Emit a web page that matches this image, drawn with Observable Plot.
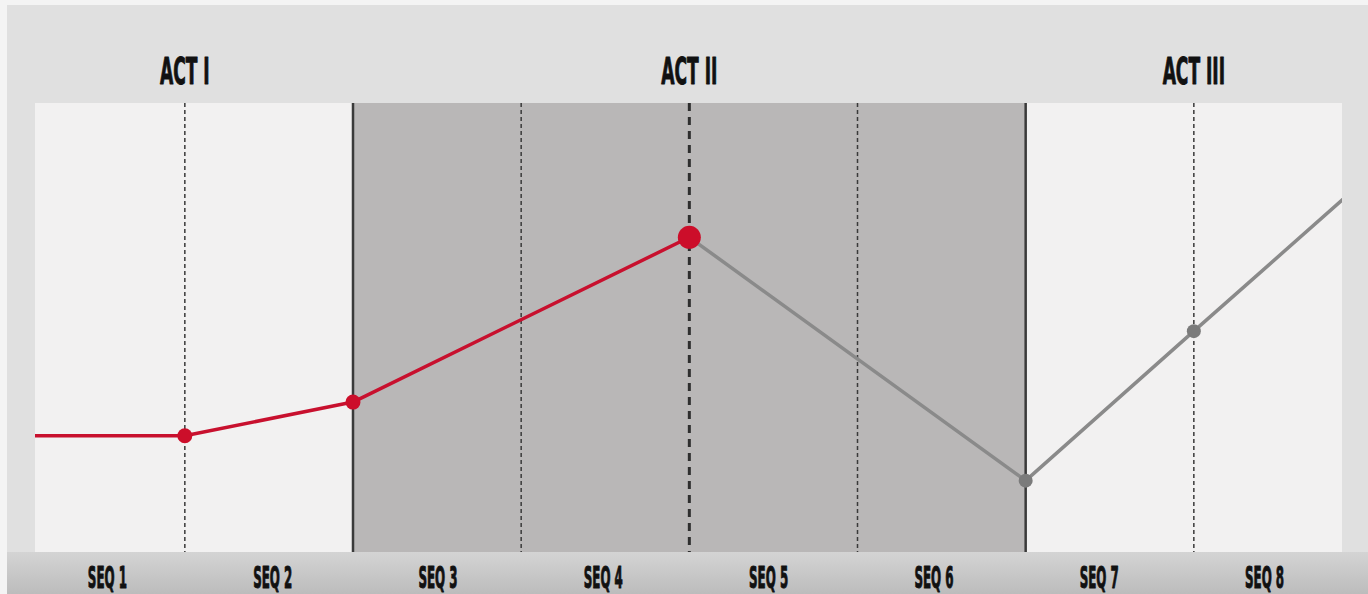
<!DOCTYPE html>
<html><head><meta charset="utf-8">
<script src="https://cdn.jsdelivr.net/npm/d3@7"></script>
<script src="https://cdn.jsdelivr.net/npm/@observablehq/plot@0.6"></script>
<style>
html,body{margin:0;padding:0;background:#f4f4f4;overflow:hidden;}
#wrap{position:relative;width:1368px;height:594px;}
#panel{position:absolute;left:7px;top:5px;right:0;bottom:0;background:#e0e0e0;}
#band{position:absolute;left:7px;right:0;top:552px;bottom:0;background:linear-gradient(#d4d4d4,#bcbcbc);}
#chart{position:absolute;left:0;top:0;}
</style></head><body>
<div id="wrap"><div id="panel"></div><div id="band"></div><div id="chart"></div></div>
<script>
// ---- data ----
const seqLabels = ["SEQ 1","SEQ 2","SEQ 3","SEQ 4","SEQ 5","SEQ 6","SEQ 7","SEQ 8"];
const seqBoundaries = [1,2,3,4,5,6,7];
const actNames = ["ACT I","ACT II","ACT III"];
const actStart = [0,2,6];
const actEnd = [2,6,8];
const actTone = ["light","dark","light"];
const risingX = [0,1,2,4];
const risingY = [26,26,33.5,70.2];
const fallingX = [4,6,7,8];
const fallingY = [70.2,16,49.3,82.4];
const redPoints = [1,2];      // x of small red markers
const peakPoint = [4];        // x of the midpoint marker
const grayPoints = [6,7];     // x of gray markers
const xVisible = [0.112,7.884];

// ---- tables ----
const acts = actNames.map((name,i)=>({name,start:actStart[i],end:actEnd[i],center:(actStart[i]+actEnd[i])/2,tone:actTone[i]}));
const rising = risingX.map((x,i)=>({x,y:risingY[i]}));
const falling = fallingX.map((x,i)=>({x,y:fallingY[i]}));
const allPts = [...rising,...falling];
const pick = xs => xs.map(x=>allPts.find(p=>p.x===x));
const actEdges = new Set(actStart.slice(1));
const midAct = acts[1].center;
const solidB = seqBoundaries.filter(b=>actEdges.has(b));
const dashedB = seqBoundaries.filter(b=>b===midAct);
const dottedB = seqBoundaries.filter(b=>!actEdges.has(b)&&b!==midAct);
// labels sit near the sequence centres, drawn slightly toward the middle of the strip
const seqs = seqLabels.map((label,i)=>({label,x:4 + (i+0.5-4)*0.983 - 0.02}));

const font = "'DejaVu Sans Condensed','DejaVu Sans',sans-serif";

const chart = Plot.plot({
  width:1368, height:594,
  marginTop:103, marginBottom:42, marginLeft:35, marginRight:26,
  x:{domain:xVisible, axis:null},
  y:{domain:[0,100], axis:null},
  style:{background:"transparent", overflow:"visible"},
  marks:[
    Plot.rect(acts.filter(a=>a.tone==="light"), {x1:"start", x2:"end", fill:"#f2f1f1", clip:true}),
    Plot.rect(acts.filter(a=>a.tone==="dark"), {x1:"start", x2:"end", fill:"#b9b7b7", clip:true}),
    Plot.ruleX(dottedB, {stroke:"#3a3a3a", strokeWidth:1.5, strokeDasharray:"4,3"}),
    Plot.ruleX(dashedB, {stroke:"#2e2e2e", strokeWidth:3, strokeDasharray:"8,6"}),
    Plot.ruleX(solidB, {stroke:"#3a3a3a", strokeWidth:2.5}),
    Plot.line(rising, {x:"x", y:"y", stroke:"#c8102e", strokeWidth:3.5, clip:true}),
    Plot.line(falling, {x:"x", y:"y", stroke:"#8a8a8a", strokeWidth:3.5, clip:true}),
    Plot.dot(pick(redPoints), {x:"x", y:"y", r:7.5, fill:"#cc0e2a"}),
    Plot.dot(pick(peakPoint), {x:"x", y:"y", r:11.5, fill:"#cc0e2a"}),
    Plot.dot(pick(grayPoints), {x:"x", y:"y", r:7, fill:"#7b7b7b"}),
    Plot.text(acts, {x:"center", text:"name", frameAnchor:"top", dy:-32, lineAnchor:"middle",
      fontSize:38, fontWeight:"bold", fontFamily:font, fill:"#111", stroke:"#111", strokeWidth:1}),
    Plot.text(seqs, {x:"x", text:"label", frameAnchor:"bottom", dy:26, lineAnchor:"middle",
      fontSize:30, fontWeight:"bold", fontFamily:font, fill:"#111", stroke:"#111", strokeWidth:1})
  ]
});
document.getElementById("chart").appendChild(chart);

// condense the headline lettering horizontally
chart.querySelectorAll("text").forEach(t=>{
  const s = t.textContent.startsWith("ACT") ? 0.5 : 0.44;
  const b = t.getBBox();
  const cx = b.x + b.width/2;
  const prev = t.getAttribute("transform") || "";
  t.setAttribute("transform", `${prev} translate(${cx},0) scale(${s},1) translate(${-cx},0)`);
});
</script>
</body></html>
